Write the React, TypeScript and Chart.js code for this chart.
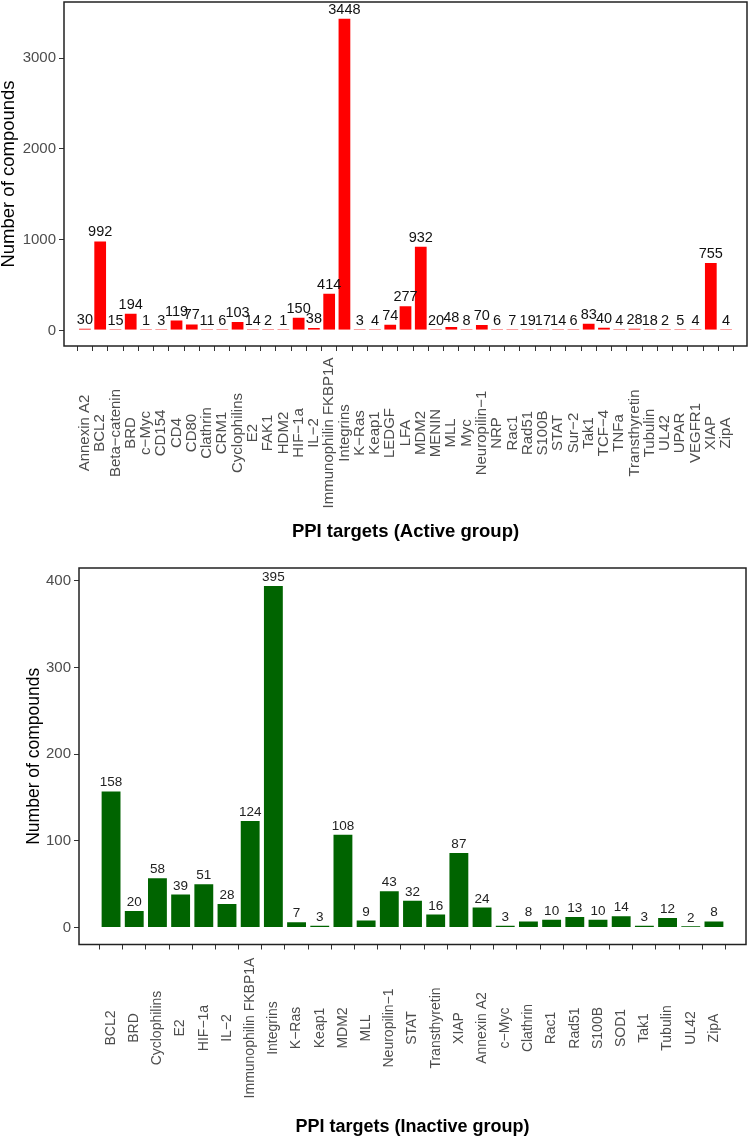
import React, { useEffect, useRef } from 'react';
import { Chart, registerables } from 'chart.js';

Chart.register(...registerables);

const FONT = '"Liberation Sans", Arial, Helvetica, sans-serif';

const activeTargets = [
  'Annexin A2', 'BCL2', 'Beta\u2212catenin', 'BRD', 'c\u2212Myc', 'CD154', 'CD4', 'CD80', 'Clathrin', 'CRM1',
  'Cyclophilins', 'E2', 'FAK1', 'HDM2', 'HIF\u22121a', 'IL\u22122', 'Immunophilin FKBP1A', 'Integrins', 'K\u2212Ras', 'Keap1',
  'LEDGF', 'LFA', 'MDM2', 'MENIN', 'MLL', 'Myc', 'Neuropilin\u22121', 'NRP', 'Rac1', 'Rad51',
  'S100B', 'STAT', 'Sur\u22122', 'Tak1', 'TCF\u22124', 'TNFa', 'Transthyretin', 'Tubulin', 'UL42', 'UPAR',
  'VEGFR1', 'XIAP', 'ZipA',
];
const activeCounts = [
  30, 992, 15, 194, 1, 3, 119, 77, 11, 6,
  103, 14, 2, 1, 150, 38, 414, 3448, 3, 4,
  74, 277, 932, 20, 48, 8, 70, 6, 7, 19,
  17, 14, 6, 83, 40, 4, 28, 18, 2, 5,
  4, 755, 4,
];
const activeYTicks = [0, 1000, 2000, 3000];

const inactiveTargets = [
  'BCL2', 'BRD', 'Cyclophilins', 'E2', 'HIF\u22121a', 'IL\u22122', 'Immunophilin FKBP1A', 'Integrins', 'K\u2212Ras', 'Keap1',
  'MDM2', 'MLL', 'Neuropilin\u22121', 'STAT', 'Transthyretin', 'XIAP', 'Annexin A2', 'c\u2212Myc', 'Clathrin', 'Rac1',
  'Rad51', 'S100B', 'SOD1', 'Tak1', 'Tubulin', 'UL42', 'ZipA',
];
const inactiveCounts = [
  158, 20, 58, 39, 51, 28, 124, 395, 7, 3,
  108, 9, 43, 32, 16, 87, 24, 3, 8, 10,
  13, 10, 14, 3, 12, 2, 8,
];
const inactiveYTicks = [0, 100, 200, 300, 400];

const panelPlugin = {
  id: 'panelDecor',
  afterDatasetsDraw(chart: any, _args: any, opts: any) {
    const ctx = chart.ctx;
    const a = chart.chartArea;
    ctx.save();
    ctx.strokeStyle = '#222';
    ctx.lineWidth = 1.5;
    ctx.strokeRect(a.left, a.top, a.right - a.left, a.bottom - a.top);

    const meta = chart.getDatasetMeta(0);
    const data = chart.data.datasets[0].data;
    ctx.font = `${opts.valueSize}px ${FONT}`;
    ctx.fillStyle = opts.valueColor;
    ctx.textAlign = 'center';
    ctx.textBaseline = 'alphabetic';
    meta.data.forEach((bar: any, i: number) => {
      ctx.fillText(String(data[i].y), bar.x, bar.y - 4);
    });

    const xs = chart.scales.x;
    ctx.font = `${opts.labelSize}px ${FONT}`;
    ctx.fillStyle = '#4D4D4D';
    ctx.textBaseline = 'middle';
    ctx.textAlign = 'center';
    (opts.labels as string[]).forEach((lab, i) => {
      const px = xs.getPixelForValue(i);
      ctx.save();
      ctx.translate(px, opts.labelY);
      ctx.rotate(-Math.PI / 2);
      ctx.fillText(lab, 0, 0);
      ctx.restore();
    });
    ctx.restore();
  },
};

type PanelProps = {
  labels: string[];
  values: number[];
  yTicks: number[];
  yMin: number;
  yMax: number;
  width: number;
  height: number;
  padTop: number;
  padRight: number;
  yAxisWidth: number;
  xAxisHeight: number;
  color: string;
  border: string;
  minBar: number;
  title: string;
  titleSize: number;
  titlePadBottom: number;
  yTitleSize: number;
  yTitlePad: number;
  tickSize: number;
  tickPad: number;
  valueSize: number;
  valueColor: string;
  labelSize: number;
  labelY: number;
};

function Panel(p: PanelProps) {
  const ref = useRef<HTMLCanvasElement | null>(null);
  useEffect(() => {
    if (!ref.current) return;
    const n = p.labels.length;
    const chart = new Chart(ref.current, {
      type: 'bar',
      data: {
        datasets: [
          {
            data: p.values.map((v, i) => ({ x: i, y: v })),
            backgroundColor: p.color,
            borderColor: p.border,
            borderWidth: 1,
            barPercentage: 0.9,
            categoryPercentage: 1,
            minBarLength: p.minBar,
          },
        ],
      },
      options: {
        responsive: false,
        animation: false,
        layout: { padding: { top: p.padTop, right: p.padRight, left: 0, bottom: 0 } },
        plugins: {
          legend: { display: false },
          tooltip: { enabled: false },
          panelDecor: {
            valueSize: p.valueSize,
            valueColor: p.valueColor,
            labelSize: p.labelSize,
            labelY: p.labelY,
            labels: p.labels,
          },
        } as any,
        scales: {
          x: {
            type: 'linear',
            min: -0.85,
            max: n - 1 + 0.85,
            afterBuildTicks: (s: any) => {
              s.ticks = p.labels.map((_, i) => ({ value: i }));
            },
            afterFit: (s: any) => {
              s.height = p.xAxisHeight;
              s.paddingLeft = 0;
              s.paddingRight = 0;
              s.paddingTop = 0;
              s.paddingBottom = 0;
            },
            ticks: { display: false, autoSkip: false },
            grid: {
              display: true,
              drawOnChartArea: false,
              drawTicks: true,
              tickLength: 5,
              color: '#333',
              lineWidth: 1,
            },
            border: { display: false },
            title: {
              display: true,
              text: p.title,
              color: '#000',
              font: { family: FONT, size: p.titleSize, weight: 'bold' },
              padding: { top: 0, bottom: p.titlePadBottom },
            },
          },
          y: {
            type: 'linear',
            min: p.yMin,
            max: p.yMax,
            afterBuildTicks: (s: any) => {
              s.ticks = p.yTicks.map((v) => ({ value: v }));
            },
            afterFit: (s: any) => {
              s.width = p.yAxisWidth;
              s.paddingTop = 0;
              s.paddingBottom = 0;
              s.paddingLeft = 0;
              s.paddingRight = 0;
            },
            ticks: {
              color: '#4D4D4D',
              font: { family: FONT, size: p.tickSize },
              padding: p.tickPad,
              callback: (v: any) => String(v),
            },
            grid: {
              display: true,
              drawOnChartArea: false,
              drawTicks: true,
              tickLength: 5,
              color: '#333',
              lineWidth: 1,
            },
            border: { display: false },
            title: {
              display: true,
              text: 'Number of compounds',
              color: '#000',
              font: { family: FONT, size: p.yTitleSize, lineHeight: 1 },
              padding: { top: p.yTitlePad, bottom: 0 },
            },
          },
        },
      } as any,
      plugins: [panelPlugin],
    });
    return () => chart.destroy();
  }, []);
  return (
    <canvas
      ref={ref}
      width={p.width}
      height={p.height}
      style={{ display: 'block', width: p.width + 'px', height: p.height + 'px' }}
    />
  );
}

export default function App() {
  return (
    <div style={{ position: 'absolute', left: 0, top: 0, width: 749, height: 1139, background: '#fff' }}>
      <Panel
        labels={activeTargets}
        values={activeCounts}
        yTicks={activeYTicks}
        yMin={-172.4}
        yMax={3620.4}
        width={749}
        height={548}
        padTop={2}
        padRight={2}
        yAxisWidth={64}
        xAxisHeight={202}
        color="#FF0000"
        border="rgba(255,255,255,0.55)"
        minBar={1.5}
        title="PPI targets (Active group)"
        titleSize={18.5}
        titlePadBottom={5}
        yTitleSize={18.5}
        yTitlePad={0}
        tickSize={15}
        tickPad={3}
        valueSize={14.5}
        valueColor="#111"
        labelSize={15}
        labelY={433}
      />
      <Panel
        labels={inactiveTargets}
        values={inactiveCounts}
        yTicks={inactiveYTicks}
        yMin={-19.75}
        yMax={414.75}
        width={749}
        height={591}
        padTop={20}
        padRight={3}
        yAxisWidth={79}
        xAxisHeight={194.5}
        color="#006400"
        border="rgba(255,255,255,0.6)"
        minBar={1}
        title="PPI targets (Inactive group)"
        titleSize={18}
        titlePadBottom={1.2}
        yTitleSize={17.5}
        yTitlePad={25.75}
        tickSize={15}
        tickPad={3}
        valueSize={13.5}
        valueColor="#222"
        labelSize={14}
        labelY={480}
      />
    </div>
  );
}
